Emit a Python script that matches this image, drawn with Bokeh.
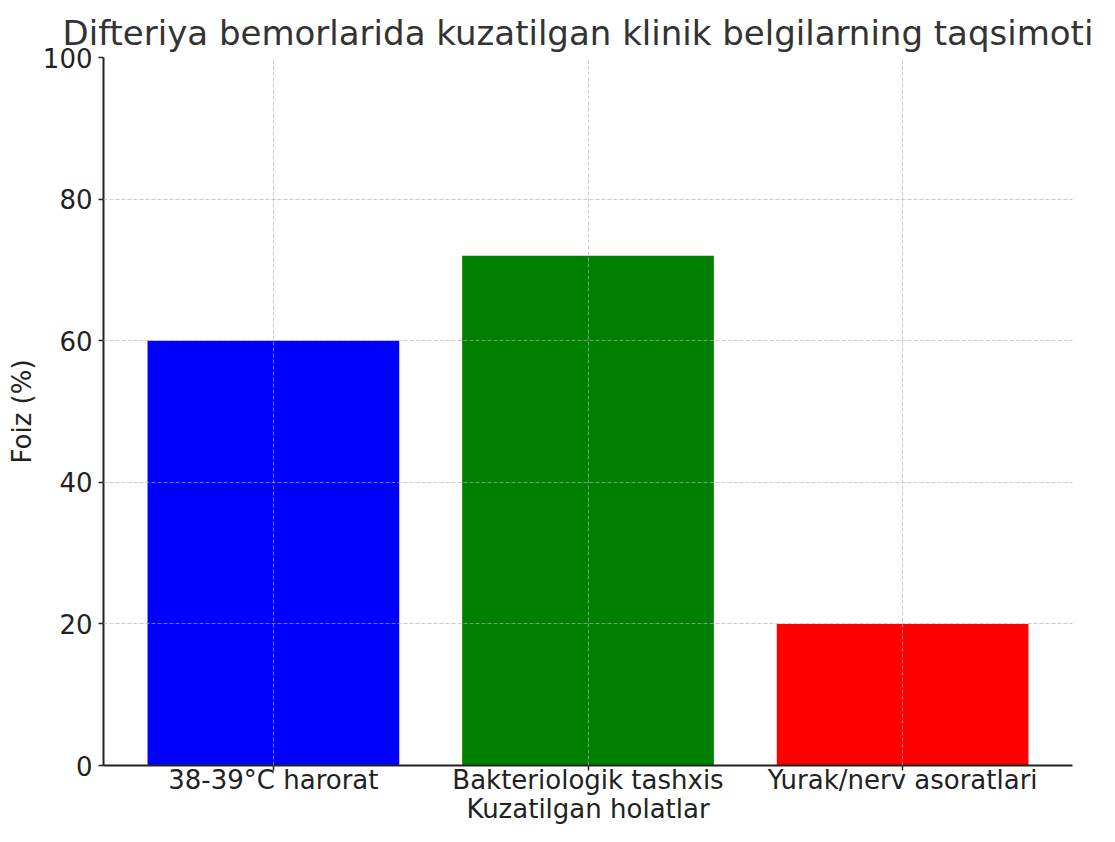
from bokeh.plotting import figure
from bokeh.models import ColumnDataSource, FactorRange, FixedTicker
from bokeh.embed import file_html
from bokeh.resources import INLINE

categories = ["38-39°C harorat", "Bakteriologik tashxis", "Yurak/nerv asoratlari"]
values = [60, 72, 20]
colors = ["#0000ff", "#008000", "#ff0000"]
y_ticks = [0, 20, 40, 60, 80, 100]

title_text = "Difteriya bemorlarida kuzatilgan klinik belgilarning taqsimoti"
x_label = "Kuzatilgan holatlar"
y_label = "Foiz (%)"

FONT = "DejaVu Sans"

source = ColumnDataSource(dict(cat=categories, val=values, color=colors))

p = figure(
    x_range=FactorRange(*categories, range_padding=0.08 / 3, range_padding_units="percent"),
    y_range=(0, 100),
    width=1099, height=826,
    output_backend="svg", toolbar_location=None,
    min_border_left=103, min_border_right=27, min_border_top=57, min_border_bottom=58,
)

p.vbar(x="cat", top="val", width=0.8, color="color", source=source, line_color=None)

p.title.text = title_text
p.title.align = "left"
p.title.offset = -41
p.title.text_font = FONT
p.title.text_font_size = "34px"
p.title.text_font_style = "normal"
p.title.text_color = "#333333"
p.title.standoff = 9

p.outline_line_color = None
p.background_fill_color = "white"
p.border_fill_color = "white"

for g in (p.xgrid, p.ygrid):
    g.grid_line_color = "#b0b0b0"
    g.grid_line_alpha = 0.65
    g.grid_line_dash = "4 2"
    g.grid_line_width = 1
    g.level = "overlay"

p.yaxis.ticker = FixedTicker(ticks=y_ticks)
p.yaxis.minor_tick_line_color = None

for ax in (p.xaxis, p.yaxis):
    ax.axis_line_color = "#222222"
    ax.axis_line_width = 2
    ax.major_tick_line_color = "#222222"
    ax.major_tick_line_width = 1.5
    ax.major_tick_out = 5
    ax.major_tick_in = 0
    ax.major_label_text_font = FONT
    ax.major_label_text_font_size = "26px"
    ax.major_label_text_color = "#222222"
    ax.axis_label_text_font = FONT
    ax.axis_label_text_font_size = "26px"
    ax.axis_label_text_font_style = "normal"
    ax.axis_label_text_color = "#222222"

p.xaxis.axis_label = x_label
p.yaxis.axis_label = y_label
p.xaxis.major_label_standoff = -6
p.xaxis.axis_label_standoff = -4
p.yaxis.major_label_standoff = 6
p.yaxis.axis_label_standoff = 3

open("out.html", "w").write(file_html(p, INLINE))
